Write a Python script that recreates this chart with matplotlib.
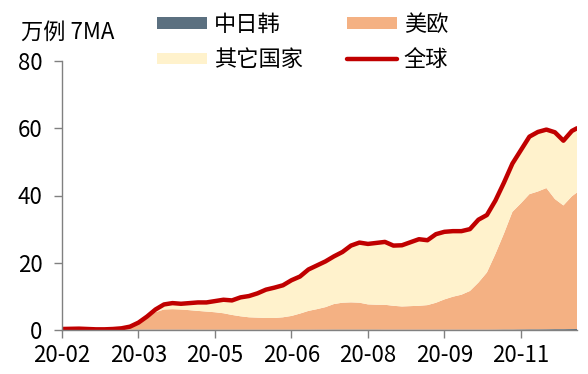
import numpy as np
import matplotlib
matplotlib.use("Agg")
import matplotlib.pyplot as plt

plt.rcParams['font.family'] = ['Noto Sans CJK SC', 'DejaVu Sans']

# day offsets from the first axis tick (sampled every 5 days)
days = list(range(0, 301, 5)) + [303]

global_total = [0.3, 0.35, 0.4, 0.3, 0.2, 0.2, 0.3, 0.5, 1.0, 2.2,
                4.0, 6.1, 7.6, 8.0, 7.8, 8.0, 8.2, 8.2, 8.6, 9.0,
                8.8, 9.7, 10.1, 10.9, 12.0, 12.6, 13.3, 14.8, 15.9, 18.0,
                19.2, 20.4, 21.9, 23.2, 25.1, 26.0, 25.6, 25.9, 26.2, 25.1,
                25.2, 26.1, 27.0, 26.7, 28.5, 29.2, 29.4, 29.4, 30.0, 32.8,
                34.2, 38.5, 43.8, 49.5, 53.5, 57.5, 58.9, 59.6, 58.8, 56.3,
                59.2, 60.0]

us_eu = [0.0, 0.0, 0.0, 0.0, 0.0, 0.01, 0.05, 0.2, 0.6, 1.7,
         3.4, 5.2, 6.0, 6.1, 6.0, 5.8, 5.6, 5.4, 5.2, 4.9,
         4.4, 4.0, 3.7, 3.6, 3.5, 3.5, 3.7, 4.1, 4.8, 5.6,
         6.1, 6.7, 7.6, 8.0, 8.1, 8.0, 7.5, 7.4, 7.4, 7.1,
         6.9, 7.0, 7.1, 7.3, 8.0, 9.0, 9.8, 10.4, 11.5, 14.0,
         17.0, 22.5, 28.5, 35.0, 37.5, 40.2, 41.0, 42.0, 38.7, 36.8,
         39.5, 40.6]

cjk = [0.25, 0.3, 0.3, 0.2, 0.15, 0.12, 0.1, 0.1, 0.1, 0.1,
       0.1, 0.1, 0.1, 0.1, 0.1, 0.1, 0.08, 0.08, 0.08, 0.08,
       0.08, 0.08, 0.08, 0.08, 0.08, 0.08, 0.08, 0.08, 0.08, 0.08,
       0.1, 0.1, 0.12, 0.12, 0.12, 0.12, 0.12, 0.12, 0.1, 0.1,
       0.1, 0.1, 0.1, 0.1, 0.1, 0.1, 0.1, 0.1, 0.1, 0.1,
       0.1, 0.12, 0.15, 0.15, 0.18, 0.2, 0.2, 0.22, 0.25, 0.25,
       0.28, 0.3]

other = list(np.maximum(np.array(global_total) - np.array(us_eu) - np.array(cjk), 0))

tick_days = [0, 45, 90, 135, 180, 225, 270]
tick_labels = ['20-02', '20-03', '20-05', '20-06', '20-08', '20-09', '20-11']

c_cjk = '#5B7080'
c_useu = '#F4B183'
c_other = '#FFF2CC'
c_line = '#C00000'

FS = 16

fig = plt.figure(figsize=(5.88, 3.74), dpi=100)
ax = fig.add_axes([62/588, 44/374, (577-62)/588, (330-61)/374])

ax.stackplot(days, cjk, us_eu, other, colors=[c_cjk, c_useu, c_other],
             labels=['中日韩', '美欧', '其它国家'], linewidth=0)
ax.plot(days, global_total, color=c_line, lw=3.2, label='全球',
        solid_joinstyle='round', solid_capstyle='round')

ax.set_xlim(0, 303)
ax.set_ylim(0, 80)
ax.set_yticks([0, 20, 40, 60, 80])
ax.set_xticks(tick_days)
ax.set_xticklabels(tick_labels)

for s in ['top', 'right']:
    ax.spines[s].set_visible(False)
for s in ['left', 'bottom']:
    ax.spines[s].set_color('#808080')
    ax.spines[s].set_linewidth(1.0)
ax.tick_params(axis='y', direction='out', length=6, width=1, color='#808080',
               labelsize=FS, pad=8)
ax.tick_params(axis='x', direction='out', length=6, width=1, color='#808080',
               labelsize=FS, pad=4)

fig.text(21/588, 1 - 32/374, '万例 7MA', fontsize=FS, va='center', ha='left')

h, l = ax.get_legend_handles_labels()
order = [0, 2, 1, 3]
leg = fig.legend([h[i] for i in order], [l[i] for i in order], ncol=2,
                 loc='upper left', bbox_to_anchor=(157/588, 1 - 13/374),
                 frameon=False, fontsize=FS, handlelength=2.25,
                 handleheight=0.4, handletextpad=0.3, columnspacing=2.0,
                 labelspacing=0.55, borderpad=0, borderaxespad=0)

fig.savefig('out.png', dpi=100)
